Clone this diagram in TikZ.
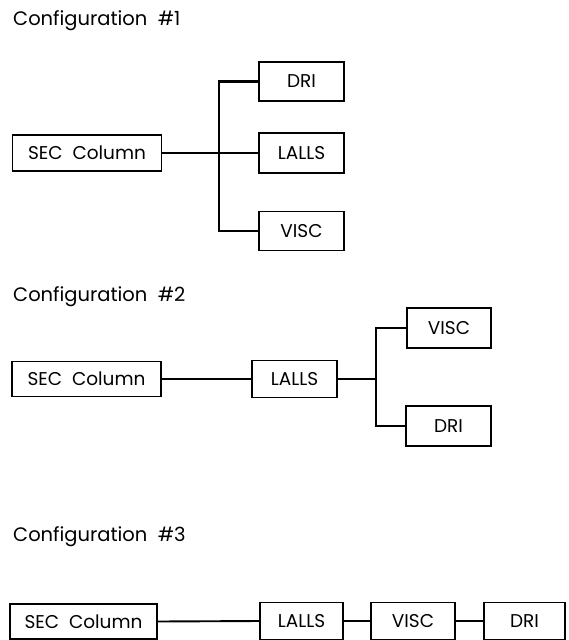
\documentclass[tikz,border=0pt]{standalone}
\usepackage{fontspec}
\setmainfont{Poppins}
\begin{document}
\begin{tikzpicture}[x=1pt,y=-1pt,
  box/.style={draw,line width=1.2pt,rectangle,inner sep=0pt,font=\fontsize{18.5}{20}\selectfont},
  conn/.style={line width=2.7pt},
  thin conn/.style={line width=1.9pt},
  title/.style={anchor=west,inner sep=0pt,font=\fontsize{19.5}{21}\selectfont}]
\useasboundingbox (0,0) rectangle (568,640);
% Configuration 1
\node[title] (t1) at (13,21) {Configuration\ \ \#1};
\node[box,minimum width=149pt,minimum height=36pt] (sec1) at (87,153) {SEC\ \ Column};
\node[box,minimum width=85pt,minimum height=39pt] (dri1) at (301.5,81.5) {DRI};
\node[box,minimum width=85pt,minimum height=40pt] (lalls1) at (301.5,153) {LALLS};
\node[box,minimum width=85pt,minimum height=39pt] (visc1) at (301.5,231) {VISC};
\coordinate (j1) at (219,153);
\draw[conn] (sec1.east) -- (j1) -- (lalls1.west);
\draw[conn] (dri1.west) -| (j1);
\draw[conn] (visc1.west) -| (j1);
% Configuration 2
\node[title] (t2) at (13,297) {Configuration\ \ \#2};
\node[box,minimum width=149pt,minimum height=35pt] (sec2) at (86.5,379) {SEC\ \ Column};
\node[box,minimum width=85pt,minimum height=37pt] (lalls2) at (294.5,379) {LALLS};
\node[box,minimum width=84pt,minimum height=40pt] (visc2) at (449,328) {VISC};
\node[box,minimum width=85pt,minimum height=40pt] (dri2) at (448.5,426) {DRI};
\coordinate (j2) at (376,379);
\draw[thin conn] (sec2.east) -- (lalls2.west);
\draw[thin conn] (lalls2.east) -- (j2);
\draw[conn] (visc2.west) -| (j2);
\draw[conn] (dri2.west) -| (j2);
% Configuration 3
\node[title] (t3) at (13,537) {Configuration\ \ \#3};
\node[box,minimum width=147pt,minimum height=35pt] (sec3) at (83.5,621.5) {SEC\ \ Column};
\node[box,minimum width=83pt,minimum height=37pt] (lalls3) at (301.5,621) {LALLS};
\node[box,minimum width=84pt,minimum height=37pt] (visc3) at (413,621) {VISC};
\node[box,minimum width=81pt,minimum height=37pt] (dri3) at (524.5,621) {DRI};
\draw[thin conn] (sec3.east) -- (lalls3.west);
\draw[conn] (lalls3.east) -- (visc3.west);
\draw[conn] (visc3.east) -- (dri3.west);
\end{tikzpicture}
\end{document}
